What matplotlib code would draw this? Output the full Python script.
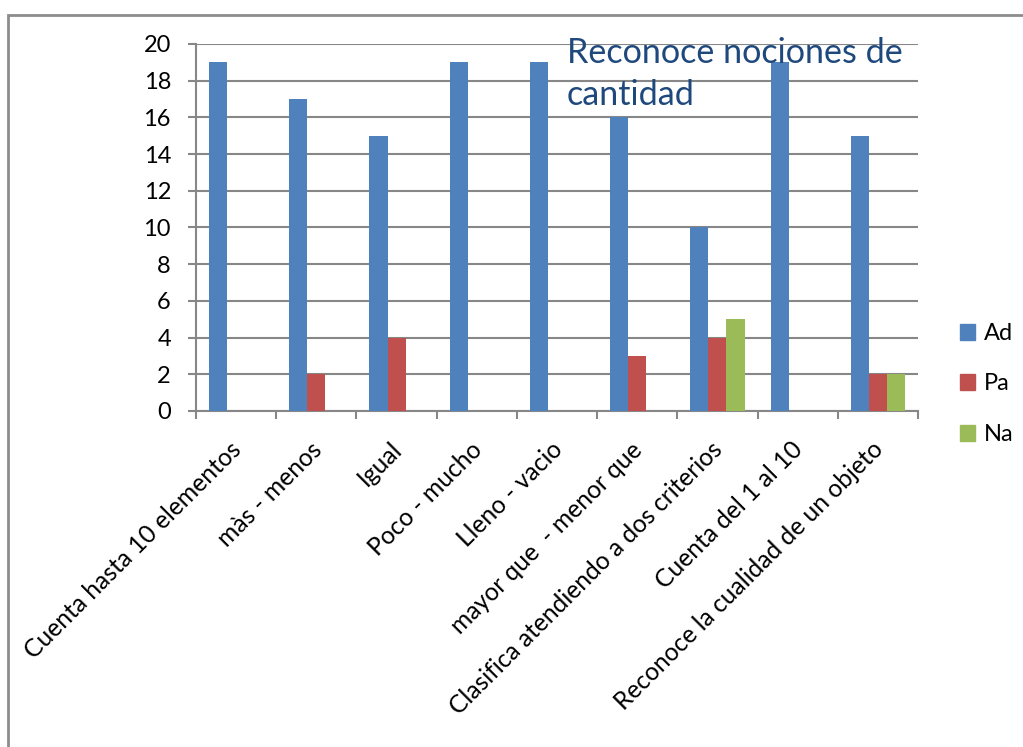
import matplotlib
matplotlib.use("Agg")
import matplotlib.pyplot as plt
import numpy as np
from matplotlib.patches import Rectangle

categories = ["Cuenta hasta 10 elementos", "màs - menos", "Igual", "Poco - mucho",
              "Lleno - vacio", "mayor que  - menor que", "Clasifica atendiendo a dos criterios",
              "Cuenta del 1 al 10", "Reconoce la cualidad de un objeto"]
ad = [19, 17, 15, 19, 19, 16, 10, 19, 15]
pa = [0, 2, 4, 0, 0, 3, 4, 0, 2]
na = [0, 0, 0, 0, 0, 0, 5, 0, 2]
series_names = ["Ad", "Pa", "Na"]
colors = ["#4F81BD", "#C0504D", "#9BBB59"]
yticks = [0, 2, 4, 6, 8, 10, 12, 14, 16, 18, 20]

plt.rcParams['font.family'] = ['Lato', 'DejaVu Sans']
W, H = 1023, 747
fig = plt.figure(figsize=(W/100, H/100), dpi=100)

# outer frame (partly clipped)
fig.patches.append(Rectangle((8/W, -0.1), 1.2, 1 - 15/H + 0.1, transform=fig.transFigure,
                             fill=False, edgecolor="#8C8C8C", linewidth=2, zorder=0))

ax = fig.add_axes([196/W, 1 - 411/H, (918-196)/W, (411-44)/H])
n = len(categories)
x = np.arange(n)
bw = 0.225
for i, (vals, c) in enumerate(zip([ad, pa, na], colors)):
    ax.bar(x + (i - 1) * bw, vals, width=bw, color=c, label=series_names[i], zorder=3)

fs = 17
ax.set_xlim(-0.5, n - 0.5)
ax.set_ylim(0, 20)
ax.set_yticks(yticks)
ax.set_yticklabels([str(t) for t in yticks], fontsize=fs)
ax.yaxis.grid(True, color="#878787", linewidth=1.5, zorder=0)
ax.set_axisbelow(True)
for s in ["top", "right"]:
    ax.spines[s].set_visible(False)
for s in ["left", "bottom"]:
    ax.spines[s].set_color("#878787")
    ax.spines[s].set_linewidth(1.5)
ax.tick_params(axis="y", length=6, width=1.5, color="#878787", pad=12)
ax.set_xticks(np.arange(-0.5, n, 1.0))
ax.set_xticklabels([])
ax.tick_params(axis="x", length=6, width=1.5, color="#878787")
for xi, lab in zip(x, categories):
    ax.text(xi + 0.02, -1.9, lab, rotation=45, ha="right", va="center",
            rotation_mode="anchor", fontsize=17.7, transform=ax.transData)

fig.text(567/W, 1 - 74/H, "Reconoce nociones de\ncantidad", fontsize=24.6, color="#1F497D",
         ha="left", va="center", linespacing=1.38)

handles = [Rectangle((0, 0), 1, 1, color=c) for c in colors]
fig.legend(handles, series_names, loc="center left", bbox_to_anchor=(960/W, 1 - 384/H),
           frameon=False, fontsize=fs, handlelength=0.65, handleheight=0.65,
           labelspacing=1.25, handletextpad=0.35, borderpad=0, borderaxespad=0)

fig.savefig("out.png", dpi=100)
